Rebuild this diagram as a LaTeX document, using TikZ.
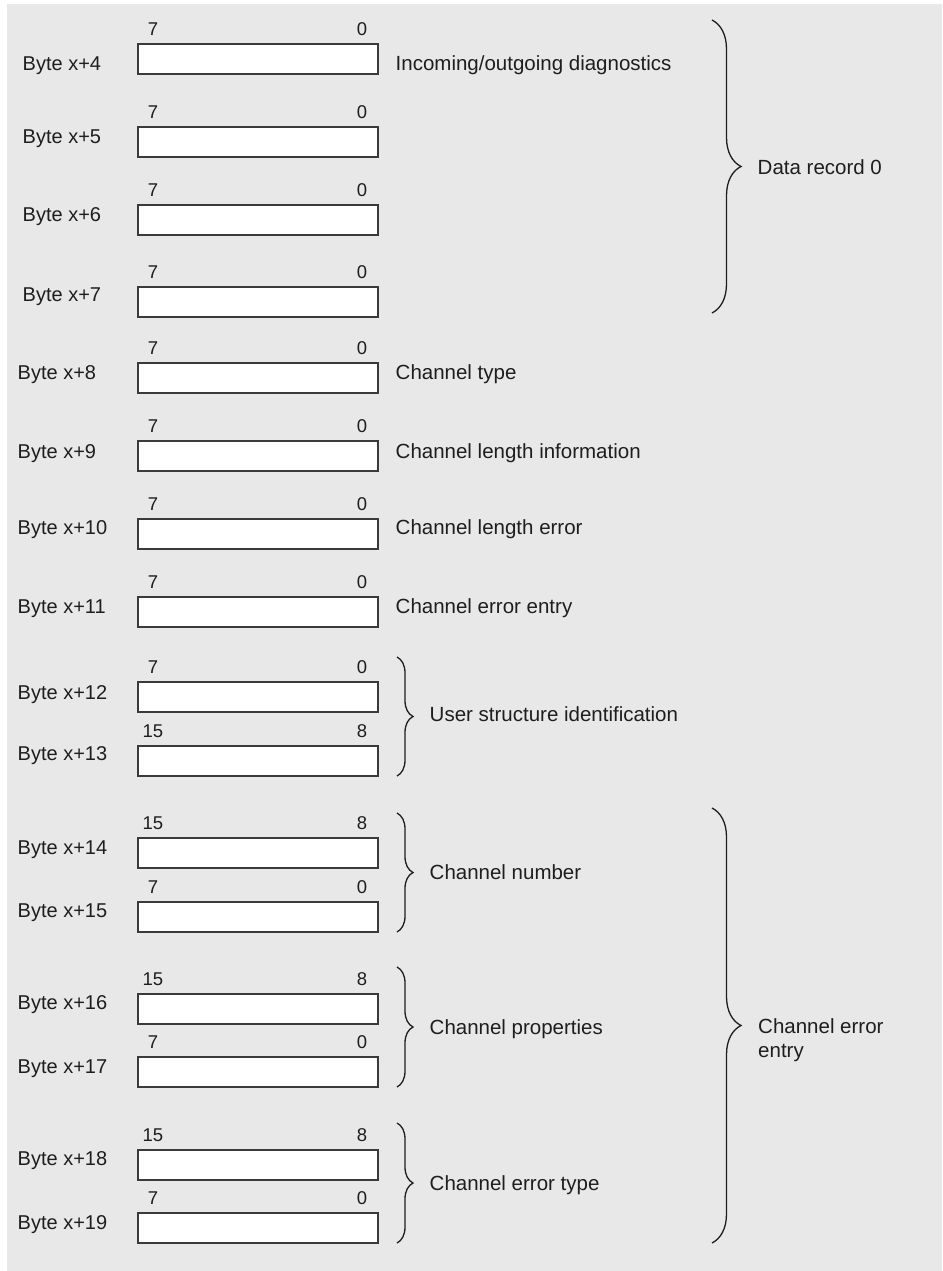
\documentclass[tikz,border=0pt]{standalone}
\usepackage{fontspec}
\setmainfont{Liberation Sans}
\usetikzlibrary{decorations.pathreplacing}
\definecolor{bggray}{HTML}{E8E8E8}
\definecolor{ink}{HTML}{1E1E1E}
\definecolor{edge}{HTML}{3A3A3A}
\tikzset{
  bytebox/.style={draw=edge, line width=1.3pt, fill=white, minimum width=240pt, minimum height=30pt, inner sep=0pt, outer sep=0pt},
  bytelabel/.style={anchor=base west, inner sep=0pt, text=ink, font=\fontsize{20}{24}\selectfont},
  bitlabel/.style={anchor=base, inner sep=0pt, text=ink, font=\fontsize{18.5}{22}\selectfont},
  desc/.style={anchor=base west, inner sep=0pt, text=ink, font=\fontsize{20.5}{24}\selectfont},
  bracetext/.style={anchor=base west, inner sep=0pt, text=ink, font=\fontsize{20.5}{24}\selectfont, align=left},
  smallbrace/.style={draw=ink, line width=1.3pt, decorate, decoration={brace, amplitude=16pt}},
  bigbrace/.style={draw=ink, line width=1.3pt, decorate, decoration={brace, amplitude=29pt}},
}
\begin{document}
\begin{tikzpicture}[x=1pt, y=-1pt]
\useasboundingbox (0,0) rectangle (942,1271);
\fill[white] (0,0) rectangle (942,1271);
\fill[bggray] (7,4) rectangle (942,1271);

% boxes: name / top / byte-label x / byte label centre / left bit / right bit
\foreach \n/\t/\bx/\by/\hi/\lo in {
  4/44/22.5/63/7/0,
  5/127/22.5/136/7/0,
  6/205/22.5/214/7/0,
  7/287/22.5/294/7/0,
  8/363/17.5/372/7/0,
  9/441/17.5/451/7/0,
  10/519/17.5/527/7/0,
  11/597/17.5/606/7/0,
  12/682/17.5/692/7/0,
  13/746/17.5/753/15/8,
  14/838/17.5/847/15/8,
  15/902/17.5/910/7/0,
  16/994/17.5/1002/15/8,
  17/1057/17.5/1066/7/0,
  18/1150/17.5/1158/15/8,
  19/1213/17.5/1222/7/0}{
  \node[bytebox, anchor=north west] (b\n) at (138,\t) {};
  \node[bytelabel] (l\n) at (\bx,\by+7.2) {Byte x+\n};
  \node[bitlabel] (h\n) at (153,\t-15+6.6) {\hi};
  \node[bitlabel] (o\n) at (362,\t-15+6.6) {\lo};
}

% descriptions
\node[desc] (d4) at (395.5,63+7.3) {Incoming/outgoing diagnostics};
\node[desc] (d8) at (395.5,372+7.3) {Channel type};
\node[desc] (d9) at (395.5,451+7.3) {Channel length information};
\node[desc] (d10) at (395.5,527+7.3) {Channel length error};
\node[desc] (d11) at (395.5,606+7.3) {Channel error entry};

% small braces
\coordinate (s12t) at (397,657);  \coordinate (s12b) at (397,776);
\coordinate (s14t) at (397,813);  \coordinate (s14b) at (397,932);
\coordinate (s16t) at (397,967);  \coordinate (s16b) at (397,1087);
\coordinate (s18t) at (397,1123); \coordinate (s18b) at (397,1243);
\draw[smallbrace] (s12t) -- (s12b);
\draw[smallbrace] (s14t) -- (s14b);
\draw[smallbrace] (s16t) -- (s16b);
\draw[smallbrace] (s18t) -- (s18b);
\node[bracetext] (u12) at (429.5,714+7.3) {User structure identification};
\node[bracetext] (u14) at (429.5,872+7.3) {Channel number};
\node[bracetext] (u16) at (429.5,1027+7.3) {Channel properties};
\node[bracetext] (u18) at (429.5,1183+7.3) {Channel error type};

% big braces
\coordinate (gt1) at (712,20);  \coordinate (gb1) at (712,313);
\coordinate (gt2) at (712,808); \coordinate (gb2) at (712,1243);
\draw[bigbrace] (gt1) -- (gb1);
\draw[bigbrace] (gt2) -- (gb2);
\node[bracetext] (g1) at (757.5,167+7.3) {Data record 0};
\node[bracetext] (g2a) at (758,1026+7.3) {Channel error};
\node[bracetext] (g2b) at (758,1050+7.3) {entry};
\end{tikzpicture}
\end{document}
